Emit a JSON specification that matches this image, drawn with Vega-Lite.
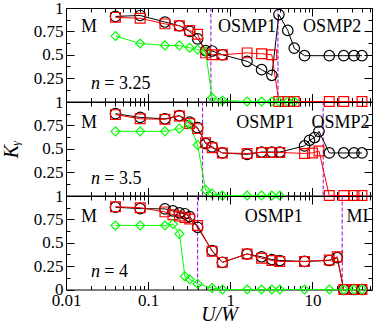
{
 "$schema": "https://vega.github.io/schema/vega-lite/v6.json",
 "padding": {"left": 0, "top": -2, "right": 3, "bottom": 0},
 "background": "white",
 "spacing": 0,
 "bounds": "flush",
 "datasets": {
  "pts": [
   {"p":"a","x":0.04,"k":0.91,"r":0.90,"g":0.70},
   {"p":"a","x":0.08,"k":0.92,"r":0.89,"g":0.62},
   {"p":"a","x":0.16,"k":0.85,"r":0.83,"g":0.60},
   {"p":"a","x":0.24,"k":0.81,"r":0.81,"g":0.60},
   {"p":"a","x":0.32,"k":0.75,"r":0.76,"g":0.575},
   {"p":"a","x":0.4,"k":0.67,"r":0.72,"g":0.555},
   {"p":"a","x":0.5,"k":0.545,"r":0.52,"g":0.535},
   {"p":"a","x":0.6,"k":0.54,"r":0.50,"g":0.04},
   {"p":"a","x":0.8,"k":0.50,"r":0.50,"g":0.01},
   {"p":"a","x":1.6,"k":0.43,"r":0.52,"g":0},
   {"p":"a","x":2.4,"k":0.34,"r":0.51,"g":0},
   {"p":"a","x":3.2,"k":0.28,"r":0.50,"g":0},
   {"p":"a","x":3.9,"k":0.93,"r":0,"g":0},
   {"p":"a","x":5,"k":0.76,"r":0,"g":0},
   {"p":"a","x":6,"k":0.57,"r":0,"g":0},
   {"p":"a","x":8,"k":0.49,"r":null,"g":null},
   {"p":"a","x":16,"k":0.49,"r":0,"g":null},
   {"p":"a","x":24,"k":0.49,"r":0,"g":null},
   {"p":"a","x":32,"k":0.49,"r":null,"g":null},
   {"p":"a","x":40,"k":0.49,"r":0,"g":null},
   {"p":"b","x":0.04,"k":0.875,"r":0.865,"g":0.686},
   {"p":"b","x":0.08,"k":0.835,"r":0.82,"g":0.686},
   {"p":"b","x":0.16,"k":0.82,"r":0.815,"g":0.686},
   {"p":"b","x":0.24,"k":0.855,"r":0.85,"g":0.715},
   {"p":"b","x":0.32,"k":0.785,"r":0.77,"g":0.76},
   {"p":"b","x":0.4,"k":0.725,"r":0.715,"g":0.54},
   {"p":"b","x":0.5,"k":0.555,"r":0.565,"g":0.06},
   {"p":"b","x":0.6,"k":0.52,"r":0.51,"g":0.02},
   {"p":"b","x":0.8,"k":0.455,"r":0.455,"g":0},
   {"p":"b","x":1.6,"k":0.44,"r":0.45,"g":0},
   {"p":"b","x":2.4,"k":0.465,"r":0.46,"g":0},
   {"p":"b","x":3.2,"k":0.465,"r":0.46,"g":0},
   {"p":"b","x":4,"k":0.465,"r":0.46,"g":0},
   {"p":"b","x":8,"k":0.53,"r":0.45,"g":null},
   {"p":"b","x":9.2,"k":0.59,"r":null,"g":null},
   {"p":"b","x":10,"k":null,"r":0.455,"g":null},
   {"p":"b","x":10.6,"k":0.62,"r":null,"g":null},
   {"p":"b","x":12,"k":0.686,"r":0.476,"g":null},
   {"p":"b","x":16,"k":0.455,"r":0,"g":null},
   {"p":"b","x":24,"k":0.455,"r":0,"g":null},
   {"p":"b","x":32,"k":0.455,"r":0,"g":null},
   {"p":"b","x":40,"k":0.455,"r":0,"g":null},
   {"p":"c","x":0.04,"k":0.88,"r":0.885,"g":0.685},
   {"p":"c","x":0.08,"k":0.865,"r":0.875,"g":0.685},
   {"p":"c","x":0.16,"k":0.862,"r":0.83,"g":0.685},
   {"p":"c","x":0.2,"k":0.84,"r":0.80,"g":0.70},
   {"p":"c","x":0.24,"k":0.82,"r":0.785,"g":0.595},
   {"p":"c","x":0.28,"k":0.81,"r":0.77,"g":0.14},
   {"p":"c","x":0.32,"k":0.78,"r":0.755,"g":0.11},
   {"p":"c","x":0.4,"k":0.665,"r":0.685,"g":0.06},
   {"p":"c","x":0.6,"k":0.415,"r":0.41,"g":0.015},
   {"p":"c","x":0.8,"k":0.29,"r":0.29,"g":0},
   {"p":"c","x":1.6,"k":0.38,"r":0.38,"g":0},
   {"p":"c","x":2.4,"k":0.35,"r":0.335,"g":0},
   {"p":"c","x":3.2,"k":0.32,"r":0.31,"g":0},
   {"p":"c","x":4,"k":0.31,"r":0.30,"g":0},
   {"p":"c","x":8,"k":0.30,"r":0.30,"g":0},
   {"p":"c","x":16,"k":0.31,"r":0.315,"g":0},
   {"p":"c","x":20,"k":0.34,"r":0.35,"g":null},
   {"p":"c","x":24,"k":0,"r":0,"g":0},
   {"p":"c","x":32,"k":0,"r":0,"g":0},
   {"p":"c","x":40,"k":0,"r":0,"g":0}
  ],
  "vl": [
   {"p":"a","x":0.58},{"p":"a","x":3.8},
   {"p":"b","x":0.46},{"p":"b","x":13.5},
   {"p":"c","x":0.4},{"p":"c","x":23}
  ],
  "lab": [
   {"p":"a","x":0.01524,"y":0.741,"t":"M","it":false},
   {"p":"a","x":0.708,"y":0.741,"t":"OSMP1","it":false},
   {"p":"a","x":7.69,"y":0.741,"t":"OSMP2","it":false},
   {"p":"a","x":0.0202,"y":0.136,"t":"n","it":true},
   {"p":"a","x":0.0293,"y":0.136,"t":"= 3.25","it":false},
   {"p":"b","x":0.01524,"y":0.725,"t":"M","it":false},
   {"p":"b","x":1.18,"y":0.725,"t":"OSMP1","it":false},
   {"p":"b","x":9.73,"y":0.725,"t":"OSMP2","it":false},
   {"p":"b","x":0.0202,"y":0.12,"t":"n","it":true},
   {"p":"b","x":0.0293,"y":0.12,"t":"= 3.5","it":false},
   {"p":"c","x":0.01524,"y":0.72,"t":"M","it":false},
   {"p":"c","x":1.50,"y":0.72,"t":"OSMP1","it":false},
   {"p":"c","x":26.0,"y":0.72,"t":"MI","it":false},
   {"p":"c","x":0.0202,"y":0.13,"t":"n","it":true},
   {"p":"c","x":0.0293,"y":0.13,"t":"= 4","it":false}
  ]
 },
 "vconcat": [
  {
   "width": 306, "height": 93.5,
   "resolve": {"axis": {"x": "independent", "y": "independent"}},
   "layer": [
    {"data": {"name": "vl"}, "transform": [{"filter": "datum.p == 'a'"}],
     "mark": {"type": "rule", "color": "#9400d3", "strokeDash": [4, 2], "strokeWidth": 1},
     "encoding": {
      "x": {"field": "x", "type": "quantitative", "scale": {"type": "log", "domain": [0.01, 53]}, "axis": {"orient": "top", "values": [0.01, 0.1, 1, 10], "tickSize": -8, "labels": false, "title": null}},
      "y": {"datum": 0, "type": "quantitative", "scale": {"domain": [0, 1]}, "axis": {"orient": "right", "values": [0, 0.25, 0.5, 0.75, 1], "tickSize": -8, "labels": false, "title": null}},
      "y2": {"datum": 1}
     }},
    {"data": {"name": "pts"}, "transform": [{"filter": "datum.p == 'a'"}, {"fold": ["k", "r", "g"], "as": ["s", "v"]}, {"filter": "isValid(datum.v)"}],
     "mark": {"type": "line", "strokeWidth": 1},
     "encoding": {
      "x": {"field": "x", "type": "quantitative", "scale": {"type": "log", "domain": [0.01, 53]}, "axis": {"orient": "bottom", "values": [0.01, 0.1, 1, 10], "tickSize": -8, "labels": false, "title": null}},
      "y": {"field": "v", "type": "quantitative", "scale": {"domain": [0, 1]}, "axis": {"orient": "left", "values": [0.25, 0.5, 0.75, 1], "format": ".2~f", "tickSize": -8, "labelPadding": 11, "title": null}},
      "color": {"field": "s", "type": "nominal", "scale": {"domain": ["k", "r", "g"], "range": ["#000000", "#ff0000", "#00ff00"]}, "legend": null}
     }},
    {"data": {"name": "pts"}, "transform": [{"filter": "datum.p == 'a'"}, {"fold": ["k", "r", "g"], "as": ["s", "v"]}, {"filter": "isValid(datum.v)"}],
     "mark": {"type": "point", "filled": false, "strokeWidth": 1.2, "opacity": 1},
     "encoding": {
      "x": {"field": "x", "type": "quantitative", "scale": {"type": "log", "domain": [0.01, 53]}, "axis": {"orient": "bottom", "values": [0.02,0.03,0.04,0.05,0.06,0.07,0.08,0.09,0.2,0.3,0.4,0.5,0.6,0.7,0.8,0.9,2,3,4,5,6,7,8,9,20,30,40,50], "tickSize": -4, "labels": false, "title": null}},
      "y": {"field": "v", "type": "quantitative", "scale": {"domain": [0, 1]}, "axis": {"orient": "left", "values": [0.125, 0.375, 0.625, 0.875], "tickSize": -4, "labels": false, "title": null}},
      "color": {"field": "s", "type": "nominal", "scale": {"domain": ["k", "r", "g"], "range": ["#000000", "#ff0000", "#00ff00"]}, "legend": null},
      "shape": {"field": "s", "type": "nominal", "scale": {"domain": ["k", "r", "g"], "range": ["circle", "square", "diamond"]}, "legend": null},
      "size": {"field": "s", "type": "nominal", "scale": {"domain": ["k", "r", "g"], "range": [110, 80, 100]}, "legend": null}
     }},
    {"data": {"name": "lab"}, "transform": [{"filter": "datum.p == 'a' && !datum.it"}],
     "mark": {"type": "text", "align": "left", "baseline": "alphabetic", "fontSize": 18, "color": "black"},
     "encoding": {
      "x": {"field": "x", "type": "quantitative", "scale": {"type": "log", "domain": [0.01, 53]}, "axis": {"orient": "top", "values": [0.02,0.03,0.04,0.05,0.06,0.07,0.08,0.09,0.2,0.3,0.4,0.5,0.6,0.7,0.8,0.9,2,3,4,5,6,7,8,9,20,30,40,50], "tickSize": -4, "labels": false, "title": null}},
      "y": {"field": "y", "type": "quantitative", "scale": {"domain": [0, 1]}, "axis": {"orient": "right", "values": [0.125, 0.375, 0.625, 0.875], "tickSize": -4, "labels": false, "title": null}},
      "text": {"field": "t"}
     }},
    {"data": {"name": "lab"}, "transform": [{"filter": "datum.p == 'a' && datum.it"}],
     "mark": {"type": "text", "align": "left", "baseline": "alphabetic", "fontSize": 18, "fontStyle": "italic", "color": "black"},
     "encoding": {
      "x": {"field": "x", "type": "quantitative", "scale": {"type": "log", "domain": [0.01, 53]}, "axis": null},
      "y": {"field": "y", "type": "quantitative", "scale": {"domain": [0, 1]}, "axis": null},
      "text": {"field": "t"}
     }}
   ]
  },
  {
   "width": 306, "height": 93.5,
   "resolve": {"axis": {"x": "independent", "y": "independent"}},
   "layer": [
    {"data": {"name": "vl"}, "transform": [{"filter": "datum.p == 'b'"}],
     "mark": {"type": "rule", "color": "#9400d3", "strokeDash": [4, 2], "strokeWidth": 1},
     "encoding": {
      "x": {"field": "x", "type": "quantitative", "scale": {"type": "log", "domain": [0.01, 53]}, "axis": {"orient": "top", "values": [0.01, 0.1, 1, 10], "tickSize": -8, "labels": false, "title": null}},
      "y": {"datum": 0, "type": "quantitative", "scale": {"domain": [0, 1]}, "axis": {"orient": "right", "values": [0, 0.25, 0.5, 0.75, 1], "tickSize": -8, "labels": false, "title": null}},
      "y2": {"datum": 1}
     }},
    {"data": {"name": "pts"}, "transform": [{"filter": "datum.p == 'b'"}, {"fold": ["k", "r", "g"], "as": ["s", "v"]}, {"filter": "isValid(datum.v)"}],
     "mark": {"type": "line", "strokeWidth": 1},
     "encoding": {
      "x": {"field": "x", "type": "quantitative", "scale": {"type": "log", "domain": [0.01, 53]}, "axis": {"orient": "bottom", "values": [0.01, 0.1, 1, 10], "tickSize": -8, "labels": false, "title": null}},
      "y": {"field": "v", "type": "quantitative", "scale": {"domain": [0, 1]}, "axis": {"orient": "left", "values": [0.25, 0.5, 0.75, 1], "format": ".2~f", "tickSize": -8, "labelPadding": 11, "title": "Kᵧ", "titleFontStyle": "italic", "titlePadding": 12}},
      "color": {"field": "s", "type": "nominal", "scale": {"domain": ["k", "r", "g"], "range": ["#000000", "#ff0000", "#00ff00"]}, "legend": null}
     }},
    {"data": {"name": "pts"}, "transform": [{"filter": "datum.p == 'b'"}, {"fold": ["k", "r", "g"], "as": ["s", "v"]}, {"filter": "isValid(datum.v)"}],
     "mark": {"type": "point", "filled": false, "strokeWidth": 1.2, "opacity": 1},
     "encoding": {
      "x": {"field": "x", "type": "quantitative", "scale": {"type": "log", "domain": [0.01, 53]}, "axis": {"orient": "bottom", "values": [0.02,0.03,0.04,0.05,0.06,0.07,0.08,0.09,0.2,0.3,0.4,0.5,0.6,0.7,0.8,0.9,2,3,4,5,6,7,8,9,20,30,40,50], "tickSize": -4, "labels": false, "title": null}},
      "y": {"field": "v", "type": "quantitative", "scale": {"domain": [0, 1]}, "axis": {"orient": "left", "values": [0.125, 0.375, 0.625, 0.875], "tickSize": -4, "labels": false, "title": null}},
      "color": {"field": "s", "type": "nominal", "scale": {"domain": ["k", "r", "g"], "range": ["#000000", "#ff0000", "#00ff00"]}, "legend": null},
      "shape": {"field": "s", "type": "nominal", "scale": {"domain": ["k", "r", "g"], "range": ["circle", "square", "diamond"]}, "legend": null},
      "size": {"field": "s", "type": "nominal", "scale": {"domain": ["k", "r", "g"], "range": [110, 80, 100]}, "legend": null}
     }},
    {"data": {"name": "lab"}, "transform": [{"filter": "datum.p == 'b' && !datum.it"}],
     "mark": {"type": "text", "align": "left", "baseline": "alphabetic", "fontSize": 18, "color": "black"},
     "encoding": {
      "x": {"field": "x", "type": "quantitative", "scale": {"type": "log", "domain": [0.01, 53]}, "axis": {"orient": "top", "values": [0.02,0.03,0.04,0.05,0.06,0.07,0.08,0.09,0.2,0.3,0.4,0.5,0.6,0.7,0.8,0.9,2,3,4,5,6,7,8,9,20,30,40,50], "tickSize": -4, "labels": false, "title": null}},
      "y": {"field": "y", "type": "quantitative", "scale": {"domain": [0, 1]}, "axis": {"orient": "right", "values": [0.125, 0.375, 0.625, 0.875], "tickSize": -4, "labels": false, "title": null}},
      "text": {"field": "t"}
     }},
    {"data": {"name": "lab"}, "transform": [{"filter": "datum.p == 'b' && datum.it"}],
     "mark": {"type": "text", "align": "left", "baseline": "alphabetic", "fontSize": 18, "fontStyle": "italic", "color": "black"},
     "encoding": {
      "x": {"field": "x", "type": "quantitative", "scale": {"type": "log", "domain": [0.01, 53]}, "axis": null},
      "y": {"field": "y", "type": "quantitative", "scale": {"domain": [0, 1]}, "axis": null},
      "text": {"field": "t"}
     }}
   ]
  },
  {
   "width": 306, "height": 93.5,
   "resolve": {"axis": {"x": "independent", "y": "independent"}},
   "layer": [
    {"data": {"name": "vl"}, "transform": [{"filter": "datum.p == 'c'"}],
     "mark": {"type": "rule", "color": "#9400d3", "strokeDash": [4, 2], "strokeWidth": 1},
     "encoding": {
      "x": {"field": "x", "type": "quantitative", "scale": {"type": "log", "domain": [0.01, 53]}, "axis": {"orient": "top", "values": [0.01, 0.1, 1, 10], "tickSize": -8, "labels": false, "title": null}},
      "y": {"datum": 0, "type": "quantitative", "scale": {"domain": [0, 1]}, "axis": {"orient": "right", "values": [0, 0.25, 0.5, 0.75, 1], "tickSize": -8, "labels": false, "title": null}},
      "y2": {"datum": 1}
     }},
    {"data": {"name": "pts"}, "transform": [{"filter": "datum.p == 'c'"}, {"fold": ["k", "r", "g"], "as": ["s", "v"]}, {"filter": "isValid(datum.v)"}],
     "mark": {"type": "line", "strokeWidth": 1},
     "encoding": {
      "x": {"field": "x", "type": "quantitative", "scale": {"type": "log", "domain": [0.01, 53]}, "axis": {"orient": "bottom", "values": [0.01, 0.1, 1, 10], "format": "~g", "tickSize": -8, "labelPadding": 11, "title": "U/W", "titleFontStyle": "italic", "titlePadding": -4}},
      "y": {"field": "v", "type": "quantitative", "scale": {"domain": [0, 1]}, "axis": {"orient": "left", "values": [0, 0.25, 0.5, 0.75, 1], "format": ".2~f", "tickSize": -8, "labelPadding": 11, "title": null}},
      "color": {"field": "s", "type": "nominal", "scale": {"domain": ["k", "r", "g"], "range": ["#000000", "#ff0000", "#00ff00"]}, "legend": null}
     }},
    {"data": {"name": "pts"}, "transform": [{"filter": "datum.p == 'c'"}, {"fold": ["k", "r", "g"], "as": ["s", "v"]}, {"filter": "isValid(datum.v)"}],
     "mark": {"type": "point", "filled": false, "strokeWidth": 1.2, "opacity": 1},
     "encoding": {
      "x": {"field": "x", "type": "quantitative", "scale": {"type": "log", "domain": [0.01, 53]}, "axis": {"orient": "bottom", "values": [0.02,0.03,0.04,0.05,0.06,0.07,0.08,0.09,0.2,0.3,0.4,0.5,0.6,0.7,0.8,0.9,2,3,4,5,6,7,8,9,20,30,40,50], "tickSize": -4, "labels": false, "title": null}},
      "y": {"field": "v", "type": "quantitative", "scale": {"domain": [0, 1]}, "axis": {"orient": "left", "values": [0.125, 0.375, 0.625, 0.875], "tickSize": -4, "labels": false, "title": null}},
      "color": {"field": "s", "type": "nominal", "scale": {"domain": ["k", "r", "g"], "range": ["#000000", "#ff0000", "#00ff00"]}, "legend": null},
      "shape": {"field": "s", "type": "nominal", "scale": {"domain": ["k", "r", "g"], "range": ["circle", "square", "diamond"]}, "legend": null},
      "size": {"field": "s", "type": "nominal", "scale": {"domain": ["k", "r", "g"], "range": [110, 80, 100]}, "legend": null}
     }},
    {"data": {"name": "lab"}, "transform": [{"filter": "datum.p == 'c' && !datum.it"}],
     "mark": {"type": "text", "align": "left", "baseline": "alphabetic", "fontSize": 18, "color": "black"},
     "encoding": {
      "x": {"field": "x", "type": "quantitative", "scale": {"type": "log", "domain": [0.01, 53]}, "axis": {"orient": "top", "values": [0.02,0.03,0.04,0.05,0.06,0.07,0.08,0.09,0.2,0.3,0.4,0.5,0.6,0.7,0.8,0.9,2,3,4,5,6,7,8,9,20,30,40,50], "tickSize": -4, "labels": false, "title": null}},
      "y": {"field": "y", "type": "quantitative", "scale": {"domain": [0, 1]}, "axis": {"orient": "right", "values": [0.125, 0.375, 0.625, 0.875], "tickSize": -4, "labels": false, "title": null}},
      "text": {"field": "t"}
     }},
    {"data": {"name": "lab"}, "transform": [{"filter": "datum.p == 'c' && datum.it"}],
     "mark": {"type": "text", "align": "left", "baseline": "alphabetic", "fontSize": 18, "fontStyle": "italic", "color": "black"},
     "encoding": {
      "x": {"field": "x", "type": "quantitative", "scale": {"type": "log", "domain": [0.01, 53]}, "axis": null},
      "y": {"field": "y", "type": "quantitative", "scale": {"domain": [0, 1]}, "axis": null},
      "text": {"field": "t"}
     }}
   ]
  }
 ],
 "config": {
  "font": "Liberation Serif, Times New Roman, serif",
  "text": {"font": "Liberation Serif, Times New Roman, serif"},
  "view": {"stroke": "black", "strokeWidth": 1},
  "axis": {"domain": false, "grid": false, "tickColor": "black", "tickWidth": 1, "labelColor": "black", "labelFont": "Liberation Serif, Times New Roman, serif", "labelFontSize": 17, "titleFont": "Liberation Serif, Times New Roman, serif", "titleFontSize": 20, "titleFontWeight": "normal", "titleColor": "black", "labelFlush": false, "labelOverlap": false}
 }
}
